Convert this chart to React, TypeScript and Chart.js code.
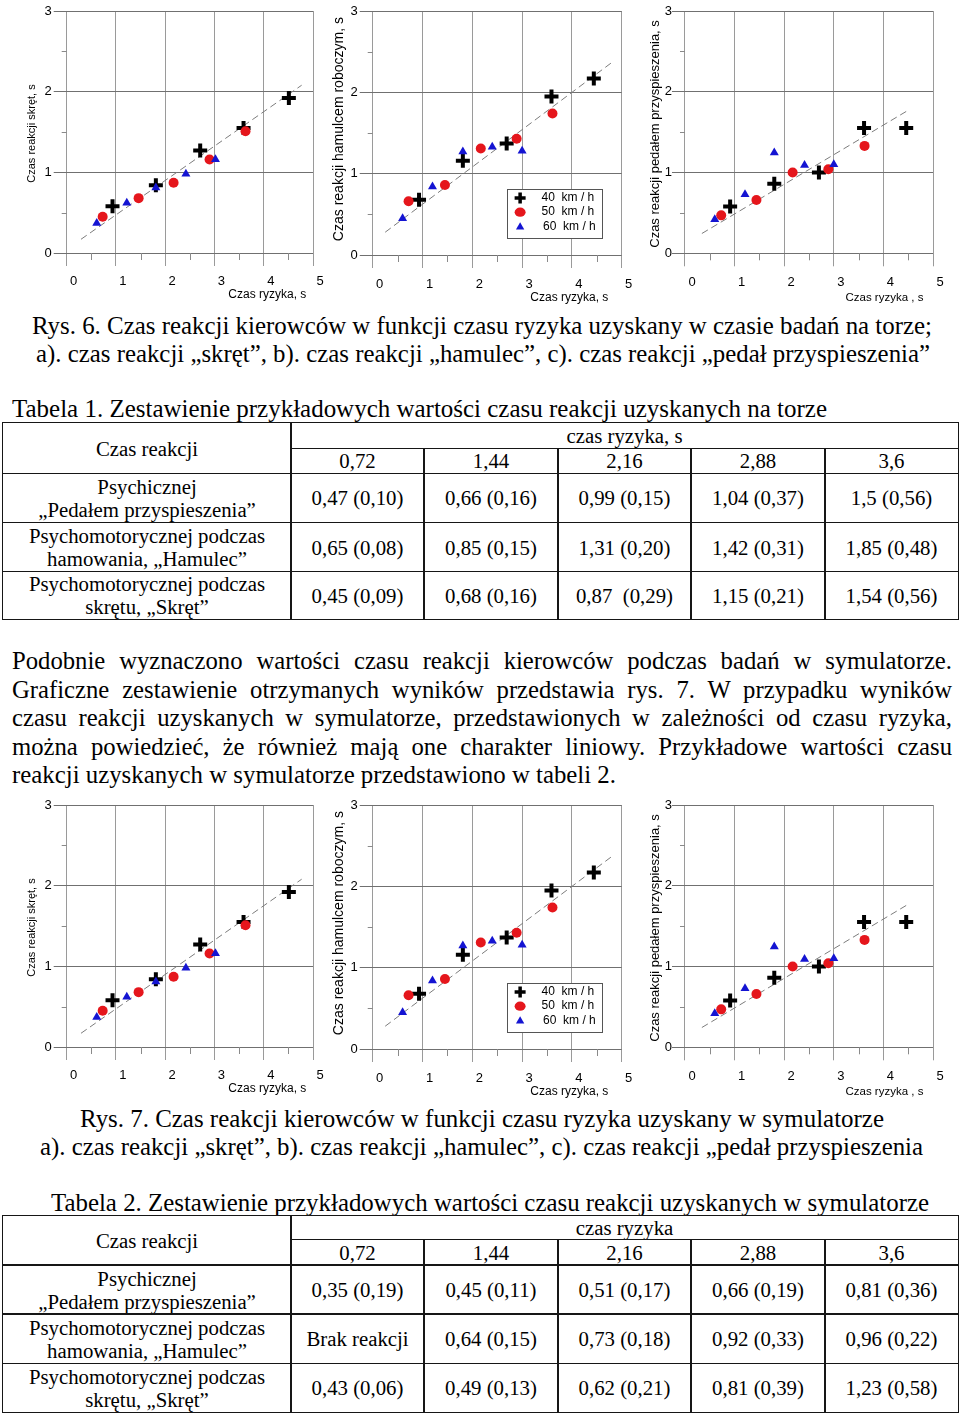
import React, { useEffect, useLayoutEffect, useRef } from 'react';
import { Chart, registerables } from 'chart.js';

Chart.register(...registerables);

// ---------------- DATA ----------------
// Rys. 6a / 7a – czas reakcji "skręt"
const skret40x = [0.93, 1.81, 2.71, 3.59, 4.51];
const skret40y = [0.58, 0.84, 1.27, 1.55, 1.92];
const skret50x = [0.73, 1.46, 2.17, 2.9, 3.63];
const skret50y = [0.45, 0.68, 0.87, 1.16, 1.51];
const skret60x = [0.61, 1.22, 1.81, 2.42, 3.02];
const skret60y = [0.37, 0.62, 0.81, 0.98, 1.16];
const skretFitX = [0.29, 4.77];
const skretFitY = [0.17, 2.08];

// Rys. 6b / 7b – czas reakcji "hamulec"
const ham40x = [0.93, 1.81, 2.69, 3.59, 4.44];
const ham40y = [0.68, 1.16, 1.37, 1.95, 2.17];
const ham50x = [0.72, 1.45, 2.17, 2.89, 3.61];
const ham50y = [0.66, 0.86, 1.31, 1.43, 1.74];
const ham60x = [0.6, 1.2, 1.81, 2.4, 3.0];
const ham60y = [0.45, 0.84, 1.27, 1.33, 1.28];
const hamFitX = [0.25, 4.83];
const hamFitY = [0.28, 2.38];

// Rys. 6c / 7c – czas reakcji "pedał przyspieszenia"
const ped40x = [0.91, 1.8, 2.7, 3.61, 4.46];
const ped40y = [0.58, 0.86, 1.0, 1.55, 1.55];
const ped50x = [0.73, 1.44, 2.17, 2.89, 3.62];
const ped50y = [0.47, 0.66, 1.0, 1.04, 1.33];
const ped60x = [0.6, 1.21, 1.8, 2.41, 3.0];
const ped60y = [0.42, 0.73, 1.245, 1.09, 1.1];
const pedFitX = [0.34, 4.47];
const pedFitY = [0.245, 1.76];

const LEGEND_LABELS = ['40  km / h', '50  km / h', '60  km / h'];

// Tables
const RISK_HEAD = ['0,72', '1,44', '2,16', '2,88', '3,6'];
const ROW_LABELS = [
  ['Psychicznej', '\u201EPedałem przyspieszenia\u201D'],
  ['Psychomotorycznej podczas', 'hamowania, \u201EHamulec\u201D'],
  ['Psychomotorycznej podczas', 'skrętu, \u201ESkręt\u201D'],
];
const T1_PEDAL = ['0,47 (0,10)', '0,66 (0,16)', '0,99 (0,15)', '1,04 (0,37)', '1,5 (0,56)'];
const T1_HAMULEC = ['0,65 (0,08)', '0,85 (0,15)', '1,31 (0,20)', '1,42 (0,31)', '1,85 (0,48)'];
const T1_SKRET = ['0,45 (0,09)', '0,68 (0,16)', '0,87  (0,29)', '1,15 (0,21)', '1,54 (0,56)'];
const T2_PEDAL = ['0,35 (0,19)', '0,45 (0,11)', '0,51 (0,17)', '0,66 (0,19)', '0,81 (0,36)'];
const T2_HAMULEC = ['Brak reakcji', '0,64 (0,15)', '0,73 (0,18)', '0,92 (0,33)', '0,96 (0,22)'];
const T2_SKRET = ['0,43 (0,06)', '0,49 (0,13)', '0,62 (0,21)', '0,81 (0,39)', '1,23 (0,58)'];

// ---------------- STYLE ----------------
const SANS = '"Liberation Sans", Arial, sans-serif';
const SERIF = '"Liberation Serif", "Times New Roman", serif';
const RED = '#e5161c';
const BLUE = '#1414d2';
const GRID_X = '#9a9a9a';
const GRID_Y = '#707070';

type Pt = { x: number; y: number };
const zip = (xs: number[], ys: number[]): Pt[] => xs.map((x, i) => ({ x, y: ys[i] }));

const minorTicks = {
  id: 'minorTicks',
  afterDraw(chart: any) {
    const { ctx, chartArea, scales } = chart;
    const x = scales.x;
    const y = scales.y;
    ctx.save();
    ctx.strokeStyle = '#8a8a8a';
    ctx.lineWidth = 1;
    for (let v = 0.5; v < 5; v += 1) {
      const px = Math.round(x.getPixelForValue(v)) + 0.5;
      ctx.beginPath();
      ctx.moveTo(px, chartArea.bottom);
      ctx.lineTo(px, chartArea.bottom + 7);
      ctx.stroke();
    }
    for (let v = 0.5; v < 3; v += 1) {
      const py = Math.round(y.getPixelForValue(v)) + 0.5;
      ctx.beginPath();
      ctx.moveTo(chartArea.left - 5, py);
      ctx.lineTo(chartArea.left, py);
      ctx.stroke();
    }
    ctx.restore();
  },
};

const boxLegend = {
  id: 'boxLegend',
  afterDatasetsDraw(chart: any, _args: any, opts: any) {
    if (!opts || !opts.show) return;
    const { ctx, scales } = chart;
    const x = scales.x;
    const y = scales.y;
    const l = Math.round(x.getPixelForValue(opts.x0)) + 0.5;
    const r = Math.round(x.getPixelForValue(opts.x1)) + 0.5;
    const t = Math.round(y.getPixelForValue(opts.y0)) + 0.5;
    const b = Math.round(y.getPixelForValue(opts.y1)) + 0.5;
    ctx.save();
    ctx.fillStyle = '#fff';
    ctx.fillRect(l, t, r - l, b - t);
    ctx.strokeStyle = '#555';
    ctx.lineWidth = 1;
    ctx.strokeRect(l, t, r - l, b - t);
    const mx = x.getPixelForValue(opts.mx);
    const tx = x.getPixelForValue(opts.tx);
    ctx.font = `12px ${SANS}`;
    ctx.textBaseline = 'middle';
    ctx.textAlign = 'left';
    LEGEND_LABELS.forEach((lab, i) => {
      const py = y.getPixelForValue(opts.rows[i]);
      if (i === 0) {
        ctx.strokeStyle = '#000';
        ctx.lineWidth = 3.5;
        ctx.beginPath();
        ctx.moveTo(mx - 5.5, py);
        ctx.lineTo(mx + 5.5, py);
        ctx.moveTo(mx, py - 5.5);
        ctx.lineTo(mx, py + 5.5);
        ctx.stroke();
      } else if (i === 1) {
        ctx.fillStyle = RED;
        ctx.beginPath();
        ctx.ellipse(mx, py, 5.5, 4.6, 0, 0, Math.PI * 2);
        ctx.fill();
      } else {
        ctx.fillStyle = BLUE;
        const rr = 4.8;
        ctx.beginPath();
        ctx.moveTo(mx, py - rr);
        ctx.lineTo(mx + rr * 0.866, py + rr / 2);
        ctx.lineTo(mx - rr * 0.866, py + rr / 2);
        ctx.closePath();
        ctx.fill();
      }
      ctx.fillStyle = '#000';
      ctx.fillText(lab, tx + (i === 2 ? 1.5 : 0), py);
    });
    ctx.restore();
  },
};

type PanelCfg = {
  key: string;
  left: number;
  top: number;
  w: number;
  h: number;
  pad: { left: number; right: number; top: number; bottom: number };
  yTitle: string;
  yTitleSize: number;
  yTitlePadBottom: number;
  yTickPad: number;
  xTitle: string;
  xTitleSize: number;
  xTitlePadTop: number;
  xTickPad: number;
  s40: Pt[];
  s50: Pt[];
  s60: Pt[];
  fit: Pt[];
  legend: boolean;
};

const BASE_PANELS: PanelCfg[] = [
  {
    key: 'a', left: 0, top: 0, w: 330, h: 305,
    pad: { left: 25.27, right: 17, top: 9.3, bottom: 3 },
    yTitle: 'Czas reakcji skręt, s ', yTitleSize: 11, yTitlePadBottom: 4, yTickPad: 2,
    xTitle: 'Czas ryzyka, s  ', xTitleSize: 12, xTitlePadTop: -10, xTickPad: 8,
    s40: zip(skret40x, skret40y), s50: zip(skret50x, skret50y), s60: zip(skret60x, skret60y),
    fit: zip(skretFitX, skretFitY), legend: false,
  },
  {
    key: 'b', left: 320, top: 0, w: 315, h: 308,
    pad: { left: 10.6, right: 13.3, top: 8.3, bottom: 3.1 },
    yTitle: '  Czas reakcji hamulcem roboczym, s', yTitleSize: 14, yTitlePadBottom: 1.1, yTickPad: 2,
    xTitle: 'Czas ryzyka, s    ', xTitleSize: 12, xTitlePadTop: -11.1, xTickPad: 9,
    s40: zip(ham40x, ham40y), s50: zip(ham50x, ham50y), s60: zip(ham60x, ham60y),
    fit: zip(hamFitX, hamFitY), legend: true,
  },
  {
    key: 'c', left: 630, top: 0, w: 330, h: 308,
    pad: { left: 17.17, right: 27, top: 8.3, bottom: 2.8 },
    yTitle: 'Czas reakcji pedałem przyspieszenia, s ', yTitleSize: 13, yTitlePadBottom: 2, yTickPad: 0,
    xTitle: 'Czas ryzyka , s   ', xTitleSize: 11.5, xTitlePadTop: -7.7, xTickPad: 8.6,
    s40: zip(ped40x, ped40y), s50: zip(ped50x, ped50y), s60: zip(ped60x, ped60y),
    fit: zip(pedFitX, pedFitY), legend: false,
  },
];

const LOWER_OFFSET = 793.5;
const PANELS: PanelCfg[] = [
  ...BASE_PANELS,
  ...BASE_PANELS.map((p) => ({ ...p, key: p.key + '2', top: p.top + LOWER_OFFSET })),
];

function ScatterPanel({ cfg }: { cfg: PanelCfg }) {
  const ref = useRef<HTMLCanvasElement>(null);
  useEffect(() => {
    if (!ref.current) return;
    const chart = new Chart(ref.current, {
      type: 'scatter',
      data: {
        datasets: [
          {
            label: '40 km/h', data: cfg.s40, pointStyle: 'cross', pointRadius: 7,
            pointBorderWidth: 4, pointBorderColor: '#000', pointBackgroundColor: '#000',
            borderColor: '#000', backgroundColor: '#000', order: 3,
          } as any,
          {
            label: '50 km/h', data: cfg.s50, pointStyle: 'circle', pointRadius: 5,
            pointBorderWidth: 0, pointBackgroundColor: RED, pointBorderColor: RED,
            borderColor: RED, backgroundColor: RED, order: 2,
          } as any,
          {
            label: '60 km/h', data: cfg.s60, pointStyle: 'triangle', pointRadius: 5.2,
            pointBorderWidth: 0, pointBackgroundColor: BLUE, pointBorderColor: BLUE,
            borderColor: BLUE, backgroundColor: BLUE, order: 1,
          } as any,
          {
            label: 'fit', data: cfg.fit, showLine: true, borderColor: '#7c7c7c', borderWidth: 1,
            borderDash: [7, 4], pointRadius: 0, order: 4, fill: false,
          } as any,
        ],
      },
      options: {
        animation: false,
        responsive: false,
        devicePixelRatio: 1,
        events: [],
        layout: { padding: cfg.pad },
        plugins: {
          legend: { display: false },
          tooltip: { enabled: false },
          boxLegend: {
            show: cfg.legend, x0: 2.7, x1: 4.6, y0: 0.81, y1: 0.215,
            mx: 2.96, tx: 3.39, rows: [0.7, 0.527, 0.344],
          },
        } as any,
        scales: {
          x: {
            type: 'linear', min: 0, max: 5,
            ticks: {
              stepSize: 1, padding: cfg.xTickPad, labelOffset: 7, maxRotation: 0, autoSkip: false,
              color: '#000', font: { family: SANS, size: 13 },
            },
            grid: { color: GRID_X, tickColor: GRID_X, tickLength: 13, lineWidth: 1 },
            border: { display: false },
            title: {
              display: true, text: cfg.xTitle, align: 'end', color: '#000',
              font: { family: SANS, size: cfg.xTitleSize },
              padding: { top: cfg.xTitlePadTop, bottom: 0 },
            },
          },
          y: {
            type: 'linear', min: 0, max: 3,
            ticks: {
              stepSize: 1, padding: cfg.yTickPad, color: '#000', font: { family: SANS, size: 13 },
            },
            grid: { color: GRID_Y, tickColor: GRID_Y, tickLength: 13, lineWidth: 1 },
            border: { display: false },
            title: {
              display: true, text: cfg.yTitle, align: 'center', color: '#000',
              font: { family: SANS, size: cfg.yTitleSize },
              padding: { top: 0, bottom: cfg.yTitlePadBottom },
            },
          },
        },
      } as any,
      plugins: [minorTicks, boxLegend],
    });
    return () => chart.destroy();
  }, [cfg]);
  return (
    <canvas
      ref={ref}
      width={cfg.w}
      height={cfg.h}
      style={{ position: 'absolute', left: cfg.left, top: cfg.top, width: cfg.w, height: cfg.h }}
    />
  );
}

// ---------------- TEXT ----------------
const TEXT_SIZE = 24.7;
const baseTop = (baseline: number, size: number) => baseline - 0.8375 * size;

function FitLine({ text, x0, x1, baseline, size = TEXT_SIZE }: { text: string; x0: number; x1: number; baseline: number; size?: number }) {
  const ref = useRef<HTMLSpanElement>(null);
  useLayoutEffect(() => {
    const el = ref.current;
    if (!el) return;
    el.style.transform = 'none';
    const w = el.getBoundingClientRect().width;
    if (w > 0) el.style.transform = `scaleX(${(x1 - x0) / w})`;
  }, [text, x0, x1]);
  return (
    <span
      ref={ref}
      style={{
        position: 'absolute', left: x0, top: baseTop(baseline, size), fontSize: size,
        lineHeight: `${size}px`, whiteSpace: 'pre', transformOrigin: '0 0', fontFamily: SERIF,
      }}
    >
      {text}
    </span>
  );
}

function JustLine({ text, x0, x1, baseline, size = TEXT_SIZE }: { text: string; x0: number; x1: number; baseline: number; size?: number }) {
  return (
    <div
      style={{
        position: 'absolute', left: x0, width: x1 - x0, top: baseTop(baseline, size), fontSize: size,
        lineHeight: `${size}px`, textAlign: 'justify', textAlignLast: 'justify', fontFamily: SERIF,
      }}
    >
      {text}
    </div>
  );
}

const PARAGRAPH = [
  'Podobnie wyznaczono wartości czasu reakcji kierowców podczas badań w symulatorze.',
  'Graficzne zestawienie otrzymanych wyników przedstawia rys. 7. W przypadku wyników',
  'czasu reakcji uzyskanych w symulatorze, przedstawionych w zależności od czasu ryzyka,',
  'można powiedzieć, że również mają one charakter liniowy. Przykładowe wartości czasu',
  'reakcji uzyskanych w symulatorze przedstawiono w tabeli 2.',
];
const PARA_BASELINES = [670, 698.5, 727, 755.5, 784];

// ---------------- TABLES ----------------
type Cell = { c0: number; c1: number; r0: number; r1: number; lines: string[] };
const TABLE_COLS = [3, 291, 424, 558, 691, 825, 958];
const T1_ROWS = [423, 448.3, 473.3, 522.7, 571.7, 619.3];
const T2_ROWS = [1216, 1239.3, 1265, 1314, 1363.3, 1412.3];

function buildCells(header: string, values: string[][]): Cell[] {
  const cells: Cell[] = [
    { c0: 0, c1: 1, r0: 0, r1: 2, lines: ['Czas reakcji'] },
    { c0: 1, c1: 6, r0: 0, r1: 1, lines: [header] },
  ];
  RISK_HEAD.forEach((h, i) => cells.push({ c0: i + 1, c1: i + 2, r0: 1, r1: 2, lines: [h] }));
  values.forEach((row, j) => {
    cells.push({ c0: 0, c1: 1, r0: j + 2, r1: j + 3, lines: ROW_LABELS[j] });
    row.forEach((v, i) => cells.push({ c0: i + 1, c1: i + 2, r0: j + 2, r1: j + 3, lines: [v] }));
  });
  return cells;
}

function GridTable({ rows, cells }: { rows: number[]; cells: Cell[] }) {
  const bw = 1.5;
  return (
    <>
      {cells.map((c, i) => {
        const x0 = TABLE_COLS[c.c0];
        const x1 = TABLE_COLS[c.c1];
        const y0 = rows[c.r0];
        const y1 = rows[c.r1];
        return (
          <div
            key={i}
            style={{
              position: 'absolute', left: x0 - bw / 2, top: y0 - bw / 2, width: x1 - x0 + bw,
              height: y1 - y0 + bw, boxSizing: 'border-box', border: `${bw}px solid #161616`,
              display: 'flex', flexDirection: 'column', alignItems: 'center', justifyContent: 'center',
              fontSize: 20.8, lineHeight: '23px', textAlign: 'center', whiteSpace: 'pre', fontFamily: SERIF,
            }}
          >
            {c.lines.map((l, j) => (
              <div key={j}>{l}</div>
            ))}
          </div>
        );
      })}
    </>
  );
}

export default function App() {
  const t1 = buildCells('czas ryzyka, s', [T1_PEDAL, T1_HAMULEC, T1_SKRET]);
  const t2 = buildCells('czas ryzyka', [T2_PEDAL, T2_HAMULEC, T2_SKRET]);
  return (
    <div
      style={{
        position: 'absolute', left: 0, top: 0, width: 960, height: 1414, background: '#fff',
        overflow: 'hidden', color: '#000', fontFamily: SERIF,
      }}
    >
      {PANELS.map((p) => (
        <ScatterPanel key={p.key} cfg={p} />
      ))}

      <FitLine text="Rys. 6. Czas reakcji kierowców w funkcji czasu ryzyka uzyskany w czasie badań na torze;" x0={32} x1={932} baseline={335} />
      <FitLine text={'a). czas reakcji \u201Eskręt\u201D, b). czas reakcji \u201Ehamulec\u201D, c). czas reakcji \u201Epedał przyspieszenia\u201D'} x0={36} x1={930} baseline={363} />
      <FitLine text="Tabela 1. Zestawienie przykładowych wartości czasu reakcji uzyskanych na torze" x0={12} x1={827} baseline={418} />

      <GridTable rows={T1_ROWS} cells={t1} />

      {PARAGRAPH.slice(0, 4).map((t, i) => (
        <JustLine key={i} text={t} x0={12} x1={952} baseline={PARA_BASELINES[i]} />
      ))}
      <FitLine text={PARAGRAPH[4]} x0={12} x1={616} baseline={PARA_BASELINES[4]} />

      <FitLine text="Rys. 7. Czas reakcji kierowców w funkcji czasu ryzyka uzyskany w symulatorze" x0={80} x1={884} baseline={1128} />
      <FitLine text={'a). czas reakcji \u201Eskręt\u201D, b). czas reakcji \u201Ehamulec\u201D, c). czas reakcji \u201Epedał przyspieszenia'} x0={40} x1={923} baseline={1156} />
      <FitLine text="Tabela 2. Zestawienie przykładowych wartości czasu reakcji uzyskanych w symulatorze" x0={51} x1={929} baseline={1212} />

      <GridTable rows={T2_ROWS} cells={t2} />
    </div>
  );
}
